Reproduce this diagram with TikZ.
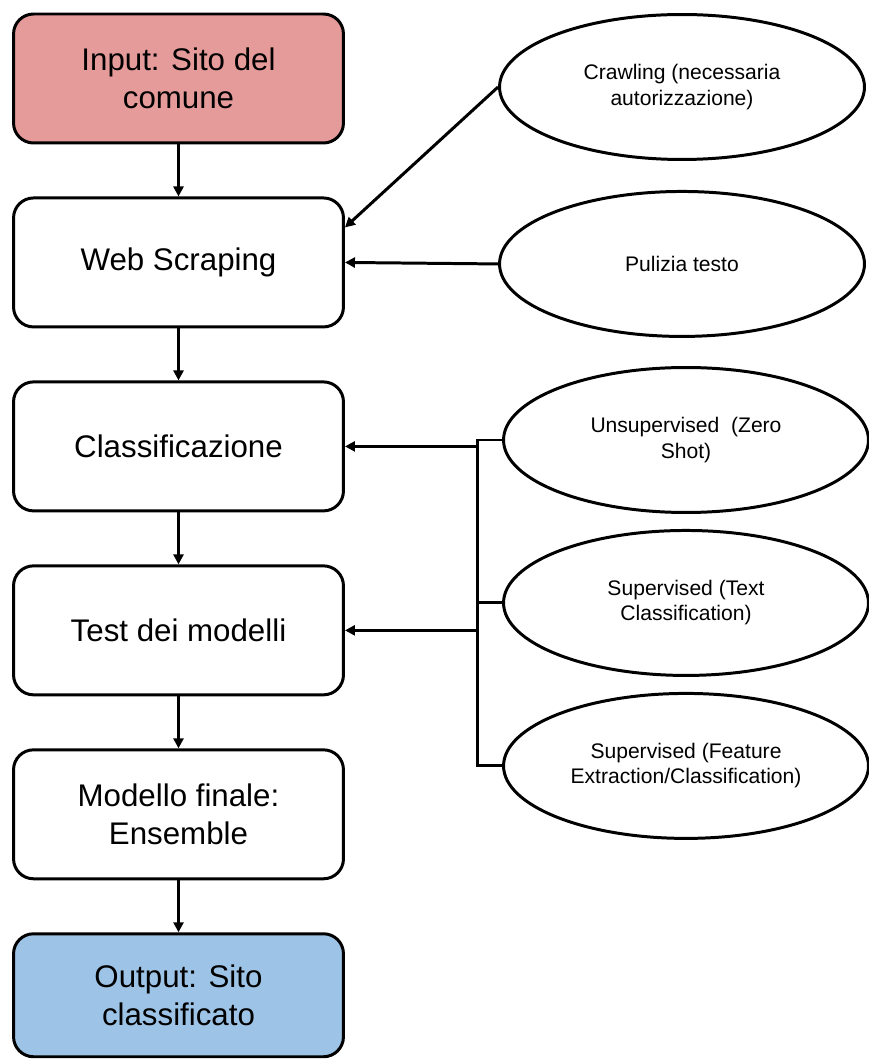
\documentclass[tikz,border=0pt]{standalone}
\usepackage{fontspec}
\setmainfont{Liberation Sans}
\usetikzlibrary{arrows.meta}
\usetikzlibrary{positioning}
\usetikzlibrary{shapes.geometric}

\definecolor{inputred}{HTML}{E69B9B}
\definecolor{outputblue}{HTML}{9DC3E6}

\tikzset{
    box/.style = {draw, line width=1.7pt, rounded corners=0.4cm, inner sep=0pt,
        minimum width=6.6cm, minimum height=2.58cm, align=center,
        font=\fontsize{17.8}{21.5}\selectfont},
    oval/.style = {draw, ellipse, line width=1.7pt, inner sep=0pt,
        minimum width=7.3cm, minimum height=2.9cm, align=center,
        font=\fontsize{12}{14.3}\selectfont},
    wire/.style = {line width=1.7pt},
    link/.style = {wire, -{Triangle[length=0.2cm,width=0.2cm]}},
}

\begin{document}
\begin{tikzpicture}[x=0.02cm,y=-0.02cm]
    \useasboundingbox (0,0) rectangle (868,1060);

    % pipeline on the left
    \node[box, fill=inputred] (input) at (178.5,78.5) {Input: Sito del\\comune};
    \node[box, below=1.04cm of input] (scraping) {Web Scraping};
    \node[box, below=1.04cm of scraping] (classif) {Classificazione};
    \node[box, below=1.04cm of classif] (test) {Test dei modelli};
    \node[box, below=1.04cm of test] (final) {Modello finale:\\Ensemble};
    \node[box, fill=outputblue, minimum height=2.46cm, below=1.04cm of final] (output) {Output: Sito\\classificato};

    \foreach \a/\b in {input/scraping, scraping/classif, classif/test, test/final, final/output}{
            \draw[link] (\a) -- (\b);
        }

    % scraping steps
    \node[oval] (crawl) at (682,87) {Crawling (necessaria\\autorizzazione)};
    \node[oval, below=0.58cm of crawl] (pulizia) {Pulizia testo};
    \draw[link] (crawl.west) -- ([yshift=0.7cm]scraping.east);
    \draw[link] (pulizia.west) -- (scraping.east);

    % models
    \node[oval] (zeroshot) at (686,440) {Unsupervised~ (Zero\\Shot)};
    \node[oval, below=0.3cm of zeroshot] (textclf) {Supervised (Text\\Classification)};
    \node[oval, below=0.3cm of textclf] (feature) {Supervised (Feature\\Extraction/Classification)};

    \coordinate (spine) at (477,0);
    \draw[wire] (zeroshot.west) -- (zeroshot.west -| spine) -- (feature.west -| spine) -- (feature.west);
    \draw[wire] (textclf.west) -- (textclf.west -| spine);
    %\draw[link] (spine |- classif) -- (classif);
    \draw[link] (classif.east -| spine) -- (classif.east);
    \draw[link] (test.east -| spine) -- (test.east);
\end{tikzpicture}
\end{document}
